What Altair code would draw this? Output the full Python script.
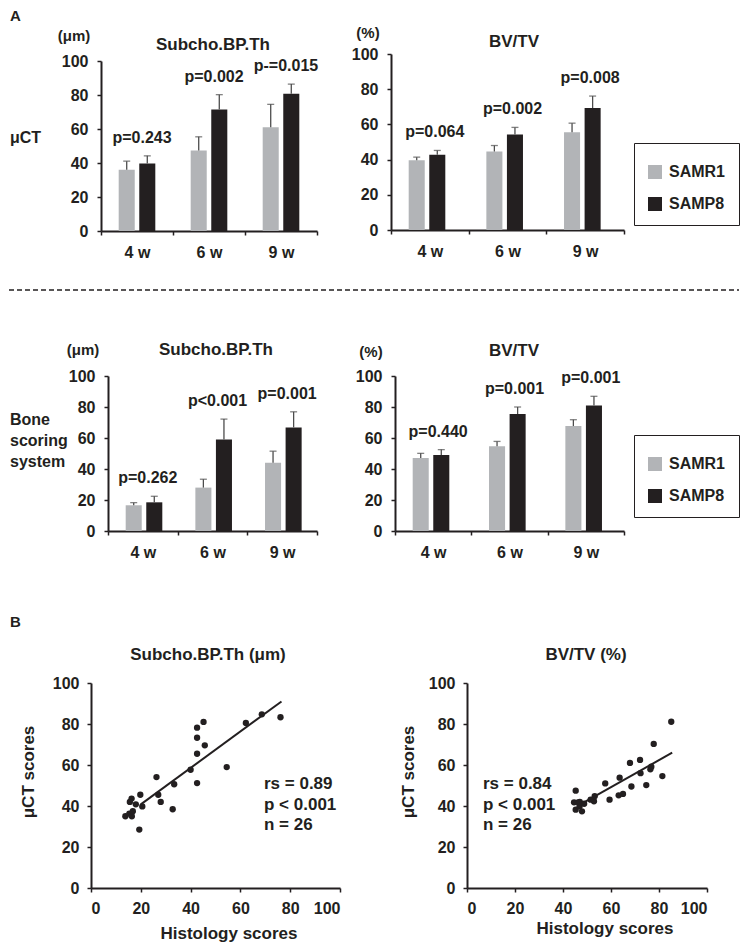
import altair as alt
import pandas as pd

FONT = "Liberation Sans"
INK = "#231f20"
GRAY = "#b2b4b7"
BLACK = "#231f20"
ERR = "#4d4d4d"

weeks = ["4 w", "6 w", "9 w"]
groups = ["SAMR1", "SAMP8"]

# A, μCT, Subcho.BP.Th (μm)
ct_th_r1 = [36.1, 47.3, 61.1]
ct_th_r1_sd = [5.0, 8.1, 13.4]
ct_th_p8 = [39.7, 71.5, 80.7]
ct_th_p8_sd = [4.5, 8.7, 5.7]
ct_th_p = ["p=0.243", "p=0.002", "p-=0.015"]

# A, μCT, BV/TV (%)
ct_bv_r1 = [39.7, 44.6, 55.6]
ct_bv_r1_sd = [1.7, 3.4, 5.1]
ct_bv_p8 = [42.7, 54.3, 69.3]
ct_bv_p8_sd = [2.5, 4.0, 6.8]
ct_bv_p = ["p=0.064", "p=0.002", "p=0.008"]

# A, bone scoring system, Subcho.BP.Th (μm)
bs_th_r1 = [16.6, 28.0, 44.0]
bs_th_r1_sd = [1.7, 5.4, 7.5]
bs_th_p8 = [18.5, 59.0, 66.8]
bs_th_p8_sd = [3.9, 13.2, 10.1]
bs_th_p = ["p=0.262", "p<0.001", "p=0.001"]

# A, bone scoring system, BV/TV (%)
bs_bv_r1 = [47.1, 54.6, 67.7]
bs_bv_r1_sd = [3.0, 3.2, 4.1]
bs_bv_p8 = [49.0, 75.5, 80.9]
bs_bv_p8_sd = [3.5, 4.5, 6.0]
bs_bv_p = ["p=0.440", "p=0.001", "p=0.001"]

# B, correlations
th_hist = [13.8, 15.4, 15.6, 16.3, 16.4, 16.8, 18.0, 19.4, 19.8, 20.6, 26.3, 27.0, 28.0,
           32.8, 33.4, 40.0, 42.6, 42.6, 42.6, 42.6, 45.2, 45.7, 54.5, 62.2, 68.6, 76.1]
th_ct = [35.0, 36.3, 42.0, 43.6, 35.0, 37.5, 40.8, 28.5, 45.5, 39.8, 54.1, 45.5, 42.0,
         38.4, 50.6, 57.7, 78.2, 73.3, 65.5, 51.2, 81.0, 69.6, 59.0, 80.5, 84.7, 83.3]
th_fit_x = [20.0, 76.5]
th_fit_y = [40.8, 91.0]
th_stats = ["rs = 0.89", "p < 0.001", "n = 26"]

bv_hist = [44.6, 45.3, 45.3, 46.3, 46.9, 47.0, 47.9, 48.8, 51.5, 52.9, 53.2, 57.6, 59.4,
           63.2, 63.6, 65.0, 67.9, 68.5, 72.1, 72.3, 74.7, 76.4, 76.8, 77.8, 81.4, 85.1]
bv_ct = [41.8, 47.5, 38.2, 41.8, 39.8, 42.0, 37.4, 41.1, 43.1, 42.3, 44.8, 51.0, 43.1,
         45.2, 53.8, 45.9, 61.0, 49.5, 62.5, 56.0, 50.2, 57.9, 59.2, 70.3, 54.6, 81.1]
bv_fit_x = [48.0, 85.5]
bv_fit_y = [41.3, 66.0]
bv_stats = ["rs = 0.84", "p < 0.001", "n = 26"]

ticks100 = [0, 20, 40, 60, 80, 100]
ONE = pd.DataFrame({"k": [0]})


def label(text, x, y, size=16, align="center", baseline="middle", angle=0, line_height=None):
    kw = dict(text=text, align=align, baseline=baseline, fontSize=size, fontWeight="bold",
              font=FONT, color=INK)
    if angle:
        kw["angle"] = angle
    if line_height:
        kw["lineHeight"] = line_height
    return alt.Chart(ONE).mark_text(**kw).encode(x=alt.value(x), y=alt.value(y))


def frame(x0, x1, y0, y1):
    # invisible box fixing the extent of a panel in the concatenated layout
    return alt.Chart(ONE).mark_rect(opacity=0).encode(
        x=alt.value(x0), x2=alt.value(x1), y=alt.value(y0), y2=alt.value(y1))


def spacer():
    return frame(0, 1, 0, 1).properties(width=1, height=1)


def yaxis(pad):
    return alt.Axis(values=ticks100, title=None, labelPadding=pad, labelOverlap=False,
                    labelFontSize=16, labelSeparation=0, labelBound=False)


def bar_panel(r1, r1e, p8, p8e, plabels, W, H, texts, fr, legend=None, yrange=None):
    df = pd.DataFrame({
        "week": weeks * 2,
        "group": [groups[0]] * 3 + [groups[1]] * 3,
        "mean": r1 + p8,
        "err": r1e + p8e,
    })
    df["top"] = df["mean"] + df["err"]
    pdf = pd.DataFrame({"week": weeks, "label": plabels,
                        "top": [max(a + b, c + d) for a, b, c, d in zip(r1, r1e, p8, p8e)]})
    xaxis = alt.Axis(title=None, labelAngle=0, tickBand="extent", labelPadding=9,
                     labelOverlap=False, labelFontSize=16)
    xscale = alt.Scale(paddingInner=0, paddingOuter=0)
    x = alt.X("week:N", sort=weeks, title=None, scale=xscale, axis=xaxis)
    xo = alt.XOffset("group:N", sort=groups,
                     scale=alt.Scale(paddingInner=0.22, paddingOuter=0.86))
    yscale = alt.Scale(domain=[0, 100], range=yrange) if yrange else alt.Scale(domain=[0, 100])
    ya = yaxis(9)

    def Y(field):
        return alt.Y(field, title=None, scale=yscale, axis=ya)

    bars = alt.Chart(df).mark_bar().encode(
        x=x, xOffset=xo, y=Y("mean:Q"),
        color=alt.Color("group:N", sort=groups,
                        scale=alt.Scale(domain=groups, range=[GRAY, BLACK]), legend=legend))
    rule = alt.Chart(df).mark_rule(color=ERR, strokeWidth=1.3).encode(
        x=x, xOffset=xo, y=Y("mean:Q"), y2="top:Q")
    cap = alt.Chart(df).mark_tick(color=ERR, thickness=1.3, size=7).encode(
        x=x, xOffset=xo, y=Y("top:Q"))
    ptext = alt.Chart(pdf).mark_text(dy=-18, dx=5, fontSize=16, fontWeight="bold",
                                     font=FONT, color=INK).encode(
        x=x, y=Y("top:Q"), text="label:N")
    layers = [fr, bars, rule, cap, ptext] + texts
    return alt.layer(*layers).properties(width=W, height=H)


def scatter_panel(xs, ys, fx, fy, W, H, texts, fr):
    df = pd.DataFrame({"hist": xs, "ct": ys})
    fit = pd.DataFrame({"hist": fx, "ct": fy})
    X = alt.X("hist:Q", title=None, scale=alt.Scale(domain=[0, 100]),
              axis=alt.Axis(values=ticks100, title=None, labelPadding=8, labelOverlap=False,
                            labelFontSize=16))
    Y = alt.Y("ct:Q", title=None, scale=alt.Scale(domain=[0, 100]), axis=yaxis(8))
    pts = alt.Chart(df).mark_circle(size=40, color=INK, opacity=1).encode(x=X, y=Y)
    line = alt.Chart(fit).mark_line(color=INK, strokeWidth=2).encode(x=X, y=Y)
    return alt.layer(fr, pts, line, *texts).properties(width=W, height=H)


def legend_at(x, y):
    return alt.Legend(orient="none", legendX=x, legendY=y, title=" ", titleFontSize=6,
                      titlePadding=2, strokeColor=INK, padding=13, labelFont=FONT,
                      labelFontSize=16, labelFontWeight="bold", labelColor=INK,
                      symbolType="square", symbolSize=196, rowPadding=16,
                      symbolStrokeWidth=0, labelOffset=6)


# Row 1 (data tops at page y 54)
TL = bar_panel(ct_th_r1, ct_th_r1_sd, ct_th_p8, ct_th_p8_sd, ct_th_p, 216, 177,
               [label("A", -91, -45, size=15, align="left", baseline="top"),
                label("(μm)", -27, -18, size=15),
                label("Subcho.BP.Th", 112, -9, size=17),
                label("μCT", -91, 84, size=16, align="left")],
               frame(-91, 248, -46, 224), yrange=[177, 7])
TR = bar_panel(ct_bv_r1, ct_bv_r1_sd, ct_bv_p8, ct_bv_p8_sd, ct_bv_p, 233, 176,
               [label("(%)", -23, -21, size=15),
                label("BV/TV", 123, -12, size=17)],
               frame(-42, 348, -46, 224), legend=legend_at(243, 89))

# Row 2 (data tops at page y 376)
BL = bar_panel(bs_th_r1, bs_th_r1_sd, bs_th_p8, bs_th_p8_sd, bs_th_p, 209, 155,
               [label("(μm)", -25, -26, size=15),
                label("Subcho.BP.Th", 108, -26, size=17),
                label(["Bone", "scoring", "system"], -98, 36, size=16, align="left",
                      baseline="top", line_height=21)],
               frame(-98, 241, -58, 232))
BR = bar_panel(bs_bv_r1, bs_bv_r1_sd, bs_bv_p8, bs_bv_p8_sd, bs_bv_p, 229, 155,
               [label("(%)", -24, -24, size=15),
                label("BV/TV", 119, -25, size=17)],
               frame(-46, 344, -58, 232), legend=legend_at(239, 59))

# Row 3 (data tops at page y 683)
S1 = scatter_panel(th_hist, th_ct, th_fit_x, th_fit_y, 249, 205,
                   [label("B", -81, -68, size=15, align="left", baseline="top"),
                    label("Subcho.BP.Th (μm)", 117, -28, size=17),
                    label(th_stats, 173, 93, size=17, align="left", baseline="top",
                          line_height=20.5),
                    label("μCT scores", -62, 89, size=17, angle=270),
                    label("Histology scores", 138, 251, size=17)],
                   frame(-81, 293, -75, 260))
S2 = scatter_panel(bv_hist, bv_ct, bv_fit_x, bv_fit_y, 240, 205,
                   [label("BV/TV (%)", 119, -28, size=17),
                    label(bv_stats, 16, 93, size=17, align="left", baseline="top",
                          line_height=20.5),
                    label("μCT scores", -58, 89, size=17, angle=270),
                    label("Histology scores", 138, 246, size=17)],
                   frame(-83, 272, -75, 260))

dash = alt.layer(
    frame(0, 730, 0, 40),
    alt.Chart(ONE).mark_rule(strokeDash=[5, 3], color=INK, strokeWidth=1.5).encode(
        x=alt.value(0), x2=alt.value(730), y=alt.value(12)),
).properties(width=730, height=40)

row1 = alt.hconcat(spacer(), TL, TR, spacing=0).resolve_scale(color="independent")
row2 = alt.hconcat(spacer(), BL, BR, spacing=0).resolve_scale(color="independent")
row3 = alt.hconcat(spacer(), S1, S2, spacing=0)

chart = alt.vconcat(row1, dash, row2, row3, spacing=0).resolve_scale(
    color="independent").properties(padding=0).configure_view(stroke=None).configure_axis(
    labelFont=FONT, labelFontSize=16, labelFontWeight="bold", labelColor=INK,
    domainColor=INK, tickColor=INK, domainWidth=2, tickWidth=1.5, tickSize=4, grid=False,
    labelOverlap=False)

chart.save("out.html", embed_options={"renderer": "svg", "actions": False})
